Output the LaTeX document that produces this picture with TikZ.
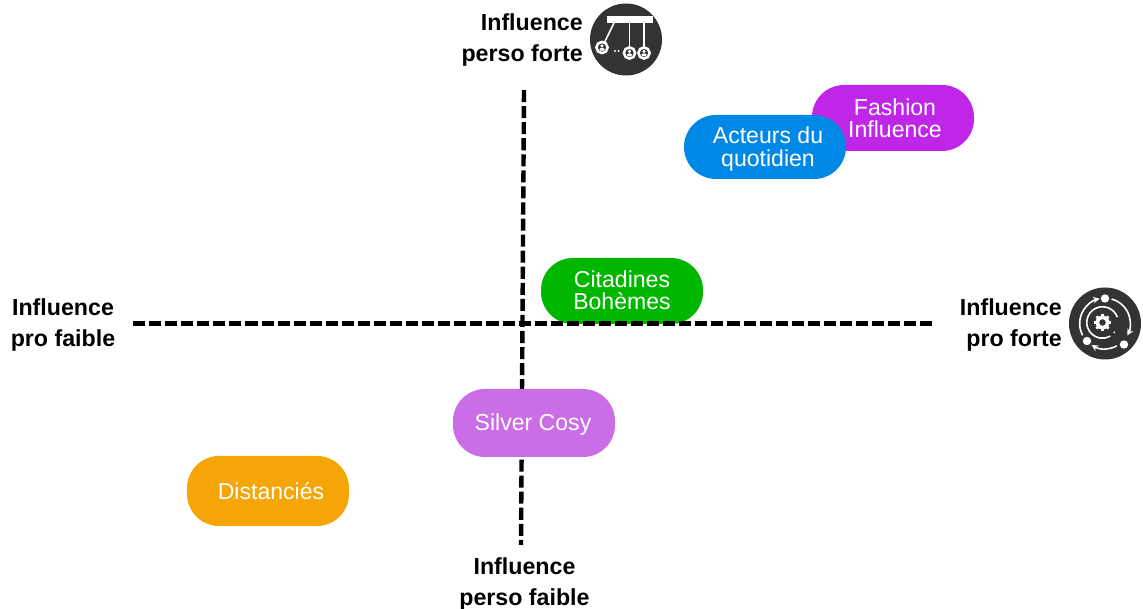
\documentclass[tikz,border=0pt]{standalone}
\usepackage{fontspec}
\usepackage{xcolor}
\setmainfont{Liberation Sans}
\definecolor{fashionc}{HTML}{C026E8}
\definecolor{acteursc}{HTML}{0088E6}
\definecolor{citadinesc}{HTML}{00B700}
\definecolor{silverc}{HTML}{CC6DE8}
\definecolor{distancec}{HTML}{F5A505}
\definecolor{iconc}{HTML}{333333}
\tikzset{
	pill/.style={rounded corners=24pt, minimum width=121.5pt, inner sep=0pt},
	pilltext/.style={inner sep=0pt, align=center, text=white, font=\fontsize{17.3}{16.6}\selectfont},
	axislabel/.style={inner sep=0pt, font=\fontsize{17.4}{23.25}\selectfont\bfseries},
	axisline/.style={line width=3.3pt, dash pattern=on 9.05pt off 3pt},
	icon/.style={circle, fill=iconc, minimum size=54pt, inner sep=0pt},
	iconline/.style={white, line width=1.2pt, >=stealth}
}

\begin{document}
\begin{tikzpicture}[x=0.75pt, y=-0.75pt]
	\useasboundingbox (0,0) rectangle (1143,609);

	\coordinate (axisN) at (524,90);
	\coordinate (axisS) at (521,545);
	\coordinate (axisW) at (133,323.5);
	\coordinate (axisE) at (932,323.5);

	\draw[axisline] (axisN) -- (axisS);

	\node[pill, fill=fashionc, minimum height=49.5pt, label={[pilltext, xshift=1.5pt]center:{Fashion\\Influence}}] (fashion) at (893,118) {};
	\node[pill, fill=acteursc, minimum height=48pt, label={[pilltext, xshift=2.25pt, yshift=-1.5pt]center:{Acteurs du\\quotidien}}] (acteurs) at (765,147) {};
	\node[pill, fill=citadinesc, minimum height=49.5pt, label={[pilltext, yshift=0.5pt]center:{Citadines\\Bohèmes}}] (citadines) at (622,291) {};
	\node[pill, fill=silverc, minimum height=51pt, label={[pilltext, xshift=-0.75pt, yshift=-1.5pt]center:{Silver Cosy}}] (silver) at (534,423) {};
	\node[pill, fill=distancec, minimum height=52.5pt, label={[pilltext, xshift=2.25pt]center:{Distanciés}}] (distancies) at (268,491) {};

	\draw[axisline] (axisW) -- (axisE);

	\node[axislabel, align=right, anchor=east] (persoforte) at (583,40) {Influence\\perso forte};
	\node[axislabel, align=center] (persofaible) at (524.5,584) {Influence\\perso faible};
	\node[axislabel, align=center] (profaible) at (63,325) {Influence\\pro faible};
	\node[axislabel, align=right, anchor=east] (proforte) at (1062,325) {Influence\\pro forte};

	% pendule
	\node[icon] (pendule) at (626,39.5) {};
	\fill[white] (607,16.5) rectangle (653,23);
	\coordinate (ballA) at (602,47.5);
	\coordinate (ballB) at (629.5,53);
	\coordinate (ballC) at (644,53);
	\draw[white, line width=1.2pt] (614,23) -- (ballA);
	\draw[white, line width=1.2pt] (629.5,23) -- (ballB);
	\draw[white, line width=1.2pt] (644,23) -- (ballC);
	\foreach \ball in {ballA,ballB,ballC} {
		\draw[white, fill=iconc, line width=1.9pt] (\ball) circle (5.6);
		\fill[white] ([yshift=1.2pt]\ball) circle (1.7);
		\fill[white] ([yshift=-1.4pt]\ball) ellipse (2.6 and 1.5);
	}
	\fill[white] (615,51) circle (1.1) (618.5,51) circle (1.1);

	% orbite
	\node[icon] (orbite) at (1105,323.5) {};
	\coordinate (gear) at (1102.5,322.5);
	\draw[white, line width=2.8pt] (gear) circle (5.4);
	\foreach \a in {0,45,...,315} {
		\draw[white, line width=2pt] ([shift={(\a:4.5pt)}]gear) -- ([shift={(\a:6.4pt)}]gear);
	}
	\fill[white] ([shift={(-40:11.5pt)}]gear) circle (1);
	\draw[iconline] ([shift={(20:11.8pt)}]gear) arc[start angle=20, end angle=300, radius=11.8pt];
	\draw[iconline, ->] ([shift={(75:19pt)}]orbite) arc[start angle=75, end angle=-28, radius=19pt];
	\draw[iconline, ->] ([shift={(-62:19pt)}]orbite) arc[start angle=-62, end angle=-122, radius=19pt];
	\draw[iconline, ->] ([shift={(-152:19pt)}]orbite) arc[start angle=-152, end angle=-258, radius=19pt];
	\fill[white] (1105,298.5) circle (4.2);
	\fill[white] (1087,341) circle (4.2);
	\fill[white] (1124,344.5) circle (4.2);
\end{tikzpicture}
\end{document}
